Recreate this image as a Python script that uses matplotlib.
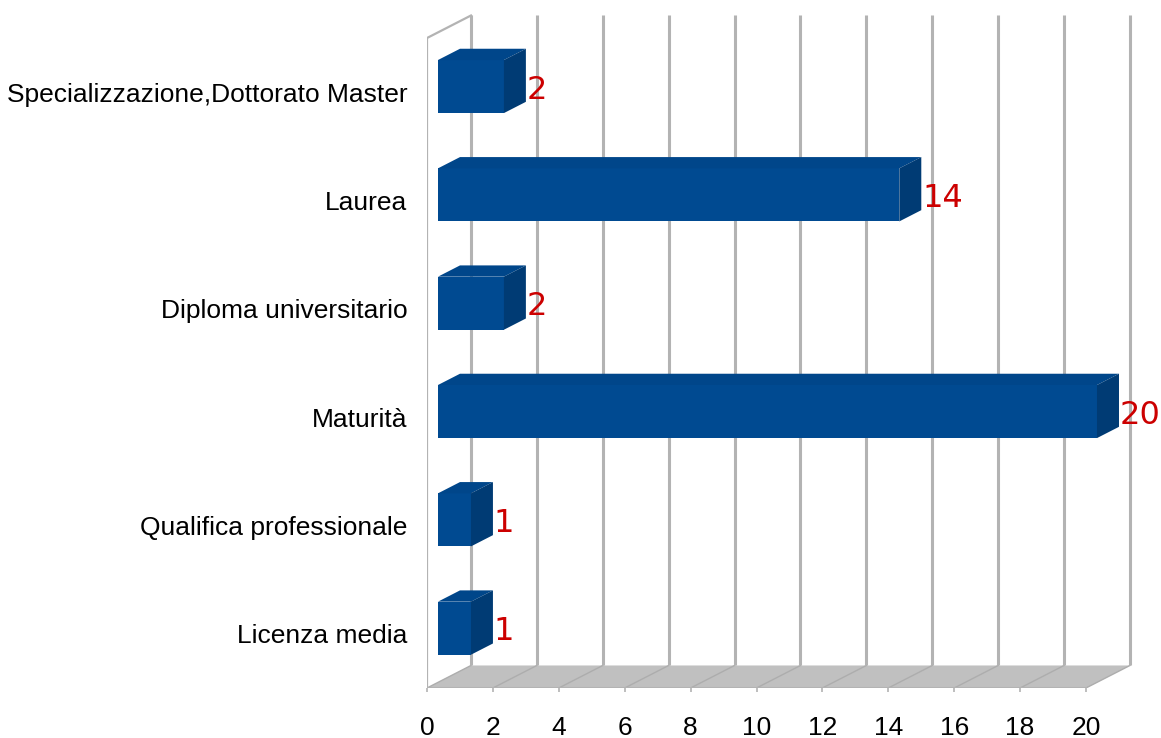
import numpy as np
import matplotlib
matplotlib.use('Agg')
import matplotlib.pyplot as plt
from matplotlib.patches import Polygon

categories = ['Licenza media', 'Qualifica professionale', 'Maturità',
              'Diploma universitario', 'Laurea',
              'Specializzazione,Dottorato Master']
values = [1, 1, 20, 2, 14, 2]
x_ticks = [0, 2, 4, 6, 8, 10, 12, 14, 16, 18, 20]

# fake 3d depth, in data units (x: value units, y: category units)
DX = 1.335
DY = 0.208
bar_h = 0.49
grid_c = '#b3b3b3'

W, H = 1161, 738
fig = plt.figure(figsize=(W / 100, H / 100), dpi=100)
px_x = 32.95    # pixels per value unit
px_y = 108.33   # pixels per category
xmin, xmax = 0, 21.5
ymin, ymax = -0.5, 5.8
ax = fig.add_axes([427 / W, (H - 688) / H,
                   (xmax - xmin) * px_x / W, (ymax - ymin) * px_y / H])
ax.set_xlim(xmin, xmax)
ax.set_ylim(ymin, ymax)
for s in ax.spines.values():
    s.set_visible(False)
ax.patch.set_visible(False)

x_end = x_ticks[-1]
y0 = -0.5
y1 = len(categories) - 0.5

# floor
ax.add_patch(Polygon([(0, y0), (x_end, y0), (x_end + DX, y0 + DY), (DX, y0 + DY)],
                     closed=True, fc='#c0c0c0', ec='none', zorder=1))
for t in x_ticks:
    ax.plot([t, t + DX], [y0, y0 + DY], color='#adadad', lw=1.0, zorder=2)
ax.plot([0, x_end], [y0, y0], color=grid_c, lw=1.5, zorder=2)

# back wall grid
for t in x_ticks:
    ax.plot([t + DX, t + DX], [y0 + DY, y1 + DY], color=grid_c, lw=2.2,
            zorder=2, solid_capstyle='butt')

# left wall
ax.plot([0, 0, DX], [y0, y1, y1 + DY], color=grid_c, lw=1.6, zorder=2)

# bars
front_c = '#004a91'
top_c = '#00468a'
side_c = '#003b74'
d0x, d0y = 0.25 * DX, 0.25 * DY
dbx, dby = 0.5 * DX, 0.5 * DY
for i, v in enumerate(values):
    x_l = d0x
    x_r = v + d0x
    bot = i - bar_h / 2 + d0y
    top = i + bar_h / 2 + d0y
    ax.add_patch(Polygon([(x_l, bot), (x_r, bot), (x_r, top), (x_l, top)],
                         closed=True, fc=front_c, ec='none', zorder=3))
    ax.add_patch(Polygon([(x_l, top), (x_r, top), (x_r + dbx, top + dby), (x_l + dbx, top + dby)],
                         closed=True, fc=top_c, ec='none', zorder=3))
    ax.add_patch(Polygon([(x_r, bot), (x_r + dbx, bot + dby), (x_r + dbx, top + dby), (x_r, top)],
                         closed=True, fc=side_c, ec='none', zorder=3))
    ax.text(x_r + dbx + 0.03, i + d0y, str(v), color='#cc0000', fontsize=23,
            family='DejaVu Sans', ha='left', va='center_baseline', zorder=4)

ax.set_xticks(x_ticks)
ax.set_xticklabels([str(t) for t in x_ticks], fontsize=19, family='Liberation Sans')
ax.set_yticks(range(len(categories)))
ax.set_yticklabels(categories, fontsize=19, family='Liberation Sans')
ax.tick_params(axis='x', length=3, width=1.2, color=grid_c, pad=17)
ax.tick_params(axis='y', length=0, pad=14)

fig.savefig('out.png', dpi=100)
